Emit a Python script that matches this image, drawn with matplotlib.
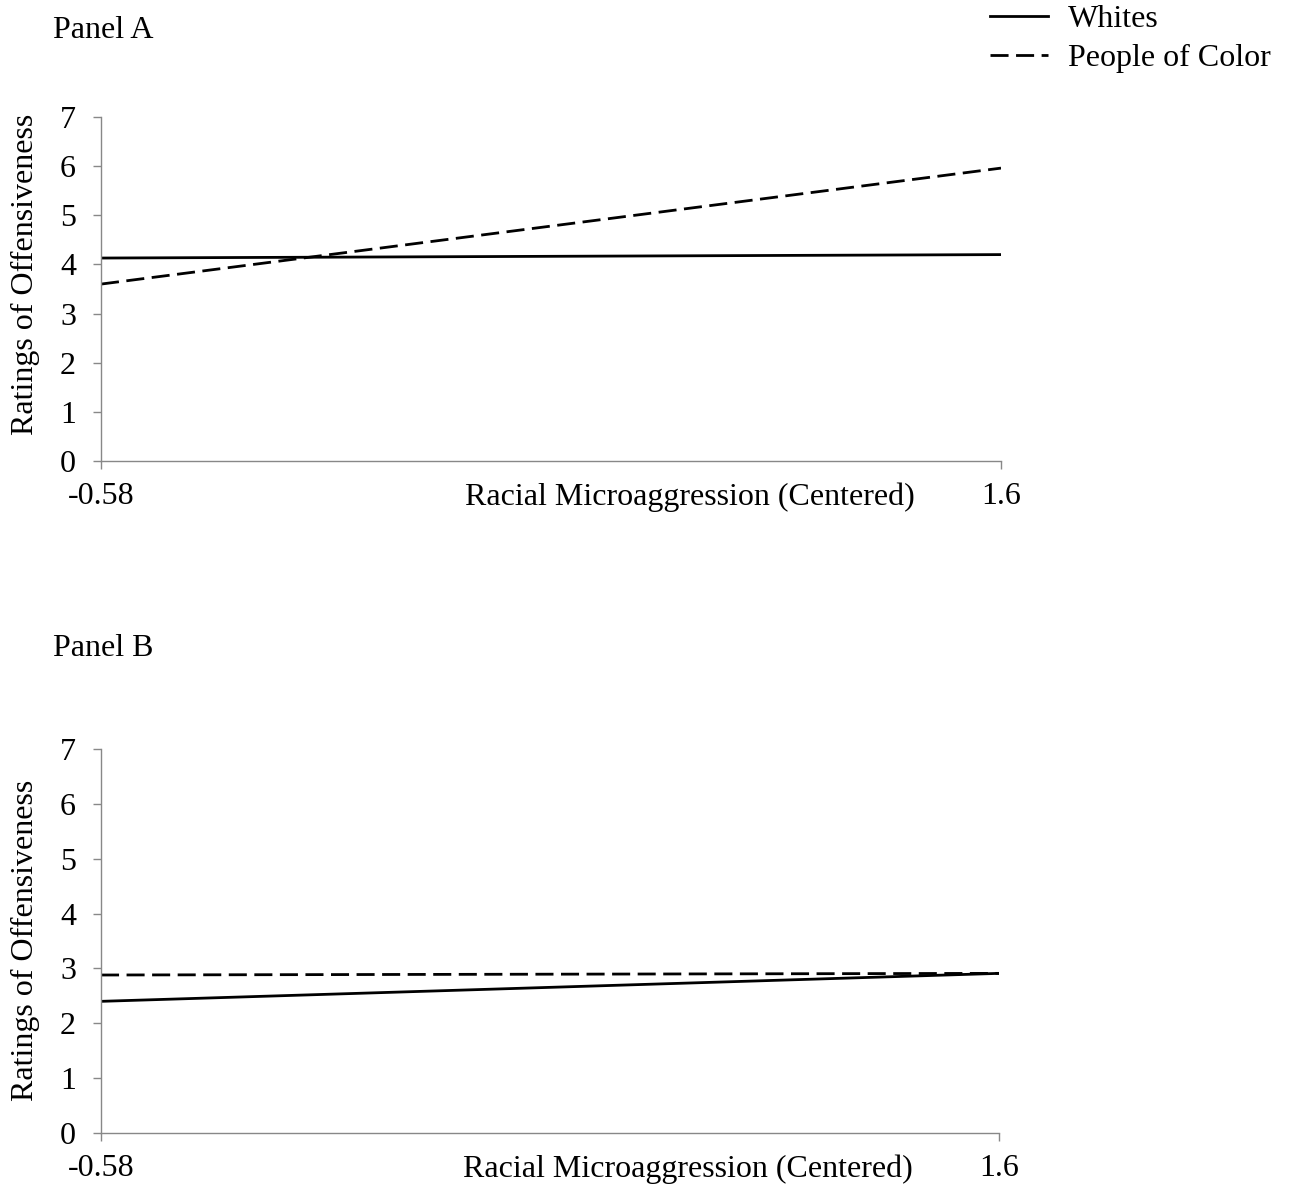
import matplotlib.pyplot as plt

# data
x_ends = [-0.58, 1.6]
whites_a = [4.13, 4.20]
poc_a = [3.60, 5.96]
whites_b = [2.40, 2.91]
poc_b = [2.88, 2.91]
y_ticks = [0, 1, 2, 3, 4, 5, 6, 7]

plt.rcParams['font.family'] = ['Liberation Serif', 'DejaVu Serif']
plt.rcParams['font.size'] = 23

fig = plt.figure(figsize=(12.9, 11.94), dpi=100)

ax_a = fig.add_axes([101/1290, 1 - 461/1194, 900/1290, 344/1194])
ax_b = fig.add_axes([101/1290, 1 - 1133/1194, 898/1290, 384/1194])

DASH = (0, (6.5, 2.7))

for ax, w, p in [(ax_a, whites_a, poc_a), (ax_b, whites_b, poc_b)]:
    ax.plot(x_ends, w, color='black', lw=2.0, label='Whites')
    ax.plot(x_ends, p, color='black', lw=2.0, linestyle=DASH, label='People of Color')
    ax.set_xlim(x_ends[0], x_ends[1])
    ax.set_ylim(0, 7)
    ax.set_xticks(x_ends)
    ax.set_xticklabels(['-0.58', '1.6'])
    ax.set_yticks(y_ticks)
    for s in ['top', 'right']:
        ax.spines[s].set_visible(False)
    for s in ['left', 'bottom']:
        ax.spines[s].set_color('#888888')
        ax.spines[s].set_linewidth(1.0)
    ax.tick_params(axis='both', direction='out', length=6, width=1.0, color='#888888')
    ax.tick_params(axis='x', pad=9)
    ax.tick_params(axis='y', pad=12)
    # x label sits on the tick-label line, right of centre
    ax.annotate('Racial Microaggression (Centered)', xy=(0.654, 0), xycoords='axes fraction',
                xytext=(0, -36), textcoords='offset pixels', ha='center', va='center')

fig.text(25/1290, 1 - 274/1194, 'Ratings of Offensiveness', rotation=90, ha='center', va='center')
fig.text(25/1290, 1 - 940/1194, 'Ratings of Offensiveness', rotation=90, ha='center', va='center')

fig.text(53/1290, 1 - 30/1194, 'Panel A', ha='left', va='center')
fig.text(53/1290, 1 - 648/1194, 'Panel B', ha='left', va='center')

# legend, top right
handles, labels = ax_a.get_legend_handles_labels()
fig.legend(handles, labels, loc='upper right', bbox_to_anchor=(1.0, 1.012), frameon=False,
           handlelength=1.8, handletextpad=0.63, labelspacing=0.3, borderaxespad=0.2)

plt.savefig('out.png', dpi=100)
